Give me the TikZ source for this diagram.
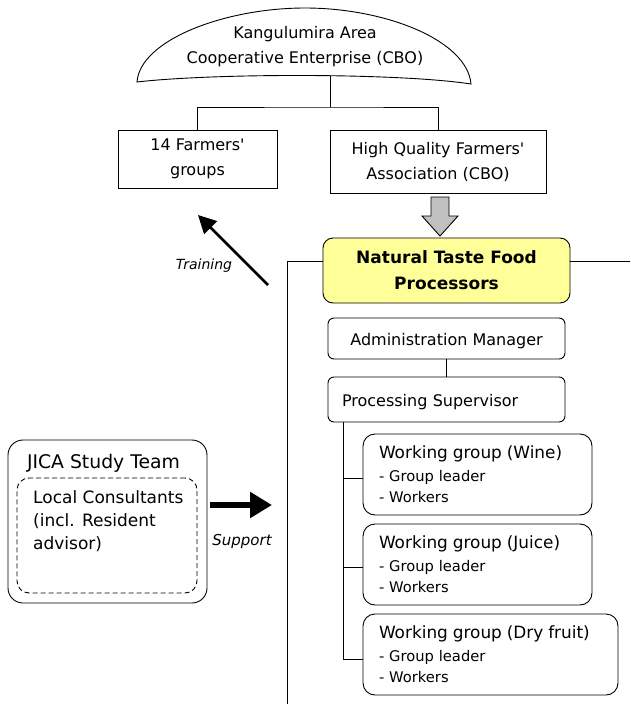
\documentclass[tikz,border=0pt]{standalone}
\usepackage{fontspec}
\newfontfamily\dv{DejaVu Sans}
\usetikzlibrary{arrows.meta}
\definecolor{boxyellow}{RGB}{255,255,153}
\definecolor{arrowgray}{RGB}{192,192,192}
\begin{document}
\begin{tikzpicture}[x=1pt,y=-1pt,
  txt/.style={inner sep=0pt, align=center, font=\dv\fontsize{16}{25}\selectfont},
  box/.style={draw, line width=0.9pt, inner sep=0pt, align=center, font=\dv\fontsize{16}{25}\selectfont},
  textdrop/.style={execute at begin node={\rule{0pt}{#1}}},
  rbox/.style={box, rounded corners=6pt},
  wgbox/.style={draw, line width=0.9pt, rounded corners=12pt, inner xsep=16pt, inner ysep=0pt,
    align=left, minimum height=81pt, font=\dv\fontsize{14.7}{21}\selectfont},
  conn/.style={line width=0.9pt},
  fat/.style={line width=2.6pt, -{Triangle[length=18pt,width=18pt]}},
  fatter/.style={line width=5.5pt, -{Triangle[length=22pt,width=25pt]}},
  lbl/.style={inner sep=0pt, font=\dv\itshape\fontsize{14}{16}\selectfont}
]
\useasboundingbox (0,0) rectangle (630,704);

% dome
\draw[conn] (137,82) .. controls (140,40) and (225,8) .. (305,8)
  .. controls (385,8) and (467,40) .. (471,84)
  .. controls (400,73) and (215,73) .. (137,82) -- cycle;
\node[txt] (kace) at (305,46.5) {Kangulumira Area\\Cooperative Enterprise (CBO)};
\coordinate (domeb) at (330,75.5);
\coordinate (j) at (330,107);

\node[box, textdrop=18pt, minimum width=159pt, minimum height=58pt] (farm) at (197.5,159) {14 Farmers'\\groups};
\node[box, textdrop=18pt, minimum width=216pt, minimum height=63pt] (hq) at (438,161.5) {High Quality Farmers'\\Association (CBO)};

\draw[conn] (domeb) -- (j);
\draw[conn] (farm.north) |- (j) -| (hq.north);

% gray block arrow
\draw[line width=0.9pt, fill=arrowgray] (431,197) -- (449,197) -- (449,216) -- (458,216)
  -- (440,236) -- (422,216) -- (431,216) -- cycle;

\node[box, rounded corners=10pt, fill=boxyellow, minimum width=247pt, minimum height=65pt,
  font=\dv\bfseries\fontsize{17}{26}\selectfont] (ntfp) at (446.5,270.5) {Natural Taste Food\\Processors};

\coordinate (lv) at (287,261);
\coordinate (lb) at (287,704);
\coordinate (re) at (630,261);
\draw[conn] ([yshift=9.5pt]ntfp.west) -- (lv) -- (lb);
\draw[conn] ([yshift=9.5pt]ntfp.east) -- (re);

% training
\coordinate (ta) at (268,285);
\coordinate (tb) at (198,215);
\draw[fat] (ta) -- (tb);
\node[lbl] (train) at (204,266) {Training};

% admin / processing
\node[rbox, textdrop=16.5pt, minimum width=237pt, minimum height=41pt] (adm) at (446.5,338.5) {Administration Manager};
\node[rbox, textdrop=16.5pt, minimum width=237pt, minimum height=45pt, inner xsep=14pt, text width=209pt, align=left] (proc) at (446.5,399.5) {Processing Supervisor};
\draw[conn] (adm.south) -- (proc.north);

% working groups
\node[wgbox, text width=197pt] (wg1) at (477.5,474.5) {{\fontsize{16.9}{21}\selectfont Working group (Wine)}\\[2pt]- Group leader\\- Workers};
\node[wgbox, text width=197pt] (wg2) at (477.5,564.5) {{\fontsize{16.9}{21}\selectfont Working group (Juice)}\\[2pt]- Group leader\\- Workers};
\node[wgbox, text width=223pt] (wg3) at (490.5,654.5) {{\fontsize{16.9}{21}\selectfont Working group (Dry fruit)}\\[2pt]- Group leader\\- Workers};

\coordinate (pv) at (343,422);
\draw[conn] (pv) |- ([yshift=-5pt]wg3.west);
\draw[conn] ([yshift=-3.5pt]wg1.west) -- ([yshift=-3.5pt]wg1.west -| pv);
\draw[conn] ([yshift=-3pt]wg2.west) -- ([yshift=-3pt]wg2.west -| pv);

% JICA
\node[draw, line width=0.9pt, rounded corners=15pt, minimum width=199pt, minimum height=163pt] (jica) at (107.5,521.5) {};
\node[txt, font=\dv\fontsize{18.8}{22}\selectfont] (jicat) at (103.5,463) {JICA Study Team};
\node[draw, dash pattern=on 5pt off 3pt, line width=0.9pt, rounded corners=12pt, minimum width=180pt, minimum height=115pt] (lc) at (107,535.5) {};
\node[txt, align=left, anchor=north west, font=\dv\fontsize{17}{23}\selectfont] (lct) at (33,490) {Local Consultants\\(incl. Resident\\advisor)};

\coordinate (sa) at (210,505);
\coordinate (sb) at (272,505);
\draw[fatter] (sa) -- (sb);
\node[lbl, font=\dv\itshape\fontsize{15}{17}\selectfont] (sup) at (242,541) {Support};
\end{tikzpicture}
\end{document}
